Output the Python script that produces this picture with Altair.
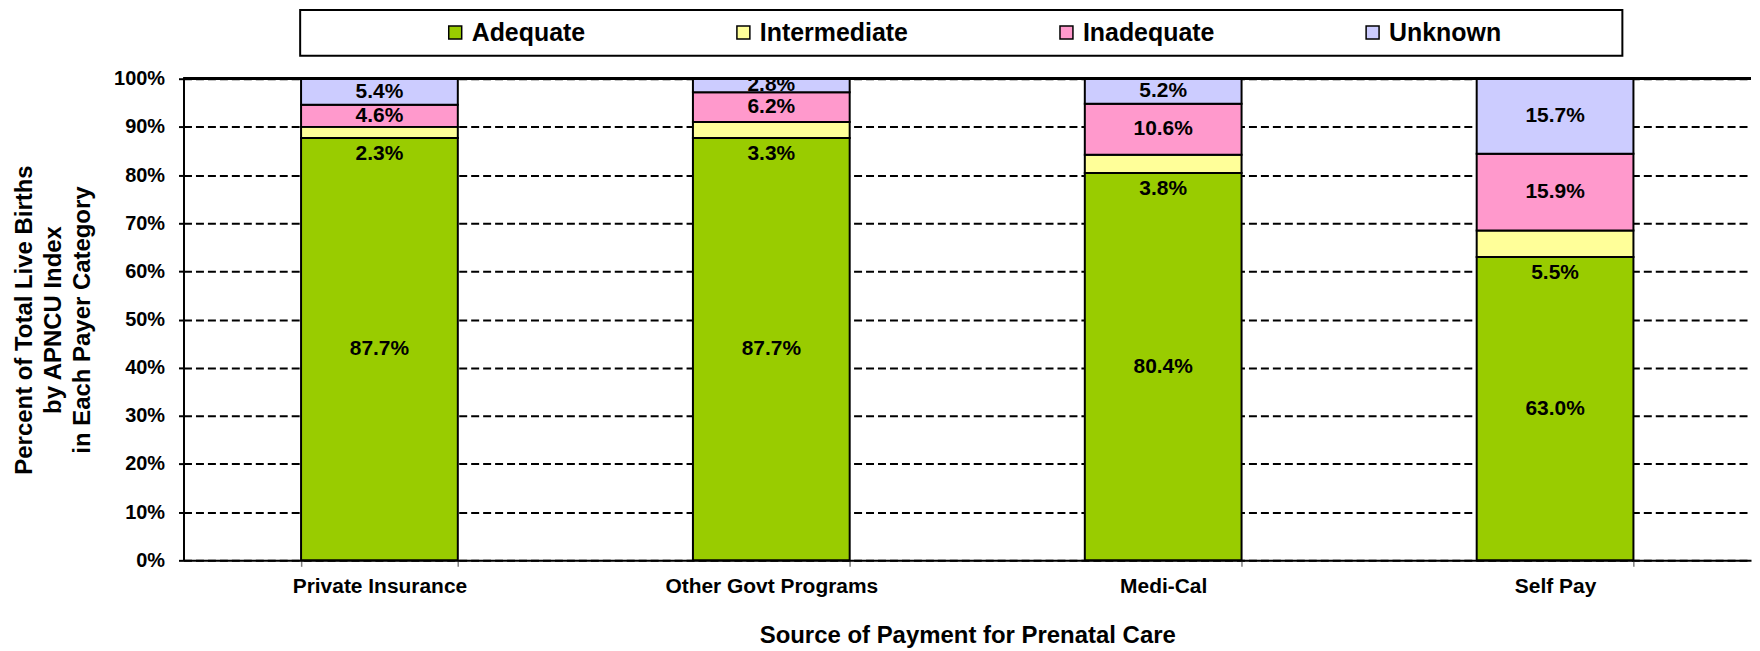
import altair as alt
import pandas as pd

payers = ["Private Insurance", "Other Govt Programs", "Medi-Cal", "Self Pay"]
levels = ["Adequate", "Intermediate", "Inadequate", "Unknown"]
adequate = [87.7, 87.7, 80.4, 63.0]
intermediate = [2.3, 3.3, 3.8, 5.5]
inadequate = [4.6, 6.2, 10.6, 15.9]
unknown = [5.4, 2.8, 5.2, 15.7]
colors = ["#99CC00", "#FFFF99", "#FF99CC", "#CCCCFF"]
y_ticks = [0, 10, 20, 30, 40, 50, 60, 70, 80, 90, 100]

rows = []
for i, p in enumerate(payers):
    for j, (lvl, series) in enumerate(zip(levels, [adequate, intermediate, inadequate, unknown])):
        rows.append({"payer": p, "level": lvl, "order": j, "value": series[i]})
df = pd.DataFrame(rows)

FONT = "Liberation Sans"
NBSP = "\u00a0"
ZWSP = "\u200b"

x_enc = alt.X(
    "payer:N", sort=payers, title="Source of Payment for Prenatal Care",
    scale=alt.Scale(paddingInner=0.6, paddingOuter=0.3),
    axis=alt.Axis(
        labelAngle=0, labelFontSize=21, labelFont=FONT, labelFontWeight="bold",
        labelColor="black", labelPadding=9, tickBand="extent", tickSize=6,
        tickColor="#808080", tickWidth=1.5, domainColor="black", domainWidth=2,
        titleFontSize=24, titleFont=FONT, titleFontWeight="bold", titleColor="black",
        titlePadding=27, grid=False, labelLimit=400,
    ),
)

y_scale = alt.Scale(domain=[0, 100], nice=False)
y_axis = alt.Axis(
    values=y_ticks, labelExpr="datum.value + '%'", labelFontSize=20, labelFont=FONT,
    labelFontWeight="bold", labelColor="black", labelPadding=14, tickSize=5,
    tickColor="black", tickWidth=2, domainColor="black", domainWidth=2,
    grid=True, gridColor="black", gridDash=[8, 4], gridWidth=2,
    title=["Percent of Total Live Births", "by APNCU Index", "in Each Payer Category"],
    titleFontSize=24, titleFont=FONT, titleFontWeight="bold", titleColor="black",
    titleLineHeight=29, titlePadding=19,
)

base = alt.Chart(df).transform_stack(
    stack="value", as_=["y0", "y1"], groupby=["payer"],
    sort=[alt.SortField("order", order="ascending")],
)

bars = base.mark_bar(stroke="black", strokeWidth=2).encode(
    x=x_enc,
    y=alt.Y("y0:Q", scale=y_scale, axis=y_axis),
    y2="y1:Q",
    color=alt.Color(
        "level:N", scale=alt.Scale(domain=levels, range=colors),
        legend=alt.Legend(
            title=NBSP, titleOrient="left", titlePadding=133, titleFontSize=10,
            orient="none", legendX=117, legendY=-69, direction="horizontal",
            symbolType="square", symbolSize=169, symbolStrokeColor="black",
            symbolStrokeWidth=1.5, symbolOpacity=1,
            labelFontSize=25, labelFont=FONT, labelFontWeight="bold", labelColor="black",
            labelOffset=4, columnPadding=146, labelLimit=600,
            labelExpr="datum.label == 'Unknown' ? 'Unknown" + NBSP * 16 + ZWSP + "' : datum.label",
            strokeColor="black", padding=10, fillColor="white",
        ),
    ),
    order=alt.Order("order:Q"),
)

mid_labels = base.transform_filter(
    "datum.level != 'Intermediate'"
).transform_calculate(
    mid="(datum.y0 + datum.y1) / 2",
    lab="format(datum.value, '.1f') + '%'",
).mark_text(
    font=FONT, fontSize=21, fontWeight="bold", color="black", baseline="middle"
).encode(
    x=alt.X("payer:N", sort=payers),
    y=alt.Y("mid:Q"),
    text="lab:N",
)

int_labels = base.transform_filter(
    "datum.level == 'Intermediate'"
).transform_calculate(
    lab="format(datum.value, '.1f') + '%'",
).mark_text(
    font=FONT, fontSize=21, fontWeight="bold", color="black", baseline="top", dy=5
).encode(
    x=alt.X("payer:N", sort=payers),
    y=alt.Y("y0:Q"),
    text="lab:N",
)

top_rule = alt.Chart(df).mark_rule(color="black", strokeWidth=2).encode(
    y=alt.datum(100)
)

chart = alt.layer(bars, mid_labels, int_labels, top_rule).properties(
    width=1572, height=483, padding={"left": 4, "top": 0, "right": 0, "bottom": 0}
).configure_view(stroke="transparent").configure_legend(strokeWidth=2)

chart.save("out.html", embed_options={"renderer": "svg", "actions": False})
